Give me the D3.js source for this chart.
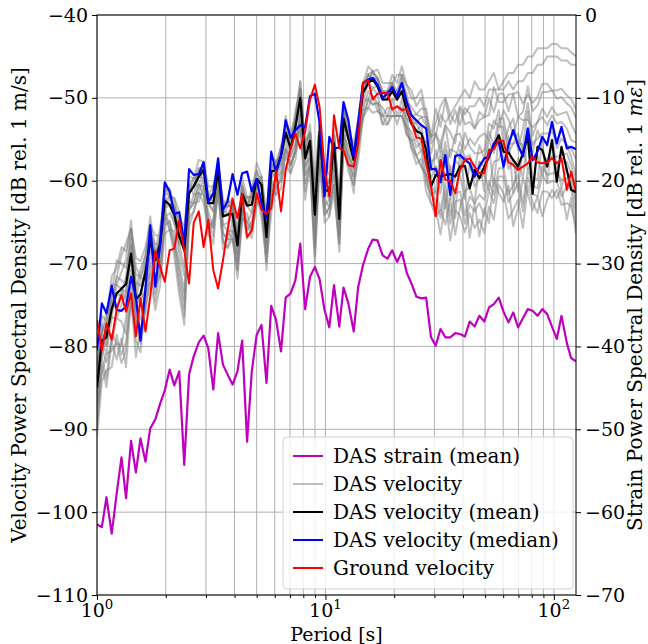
<!DOCTYPE html>
<html>
<head>
<meta charset="utf-8">
<script src="https://cdn.jsdelivr.net/npm/d3@7"></script>
<style>
  html, body { margin: 0; padding: 0; background: #fff; }
  svg { display: block; font-family: "DejaVu Serif", serif; }
</style>
</head>
<body>
<svg id="chart" width="648" height="644"></svg>
<script>
// Sample periods [s], log-uniformly spaced (ratio 1.05)
const periods = [1.00,1.05,1.10,1.16,1.22,1.28,1.34,1.41,1.48,1.55,
  1.63,1.71,1.80,1.89,1.98,2.08,2.18,2.29,2.41,2.53,
  2.65,2.79,2.93,3.07,3.23,3.39,3.56,3.73,3.92,4.12,
  4.32,4.54,4.76,5.00,5.25,5.52,5.79,6.08,6.39,6.70,
  7.04,7.39,7.76,8.15,8.56,8.99,9.43,9.91,10.4,10.9,
  11.5,12.0,12.6,13.3,13.9,14.6,15.4,16.1,16.9,17.8,
  18.7,19.6,20.6,21.6,22.7,23.8,25.0,26.3,27.6,29.0,
  30.4,31.9,33.5,35.2,37.0,38.8,40.8,42.8,45.0,47.2,
  49.6,52.0,54.6,57.4,60.2,63.3,66.4,69.7,73.2,76.9,
  80.7,84.8,89.0,93.5,98.1,103,108,114,119,125];

// DAS strain PSD, mean over channels [dB rel. 1 mε]
const strainMean = [-61.5,-61.8,-58.2,-62.6,-57.7,-53.4,-58.3,-51.4,-55.2,-51.1,
  -53.9,-49.9,-48.8,-46.9,-45.3,-42.8,-44.7,-43.0,-54.3,-43.4,
  -41.2,-39.5,-38.7,-40.2,-45.2,-38.4,-42.2,-43.4,-44.6,-43.0,
  -39.3,-51.5,-43.0,-38.6,-37.4,-44.4,-35.1,-36.8,-40.6,-34.1,
  -33.6,-32.0,-27.6,-35.5,-31.6,-30.4,-31.9,-35.6,-37.7,-32.6,
  -37.6,-32.9,-34.8,-38.2,-32.9,-30.2,-28.2,-27.1,-27.2,-29.0,
  -29.4,-28.4,-29.8,-28.6,-31.1,-32.4,-34.0,-34.2,-34.1,-38.9,
  -39.9,-37.9,-38.9,-38.9,-38.4,-38.5,-38.8,-37.0,-37.6,-36.3,
  -37.0,-35.3,-34.9,-34.1,-35.8,-37.1,-35.9,-37.7,-36.6,-35.5,
  -35.7,-36.3,-35.5,-36.1,-37.6,-39.1,-36.3,-39.6,-41.4,-41.8];

// DAS velocity PSD, mean over channels [dB rel. 1 m/s]
const velocityMean = [-85.0,-79.3,-78.9,-75.5,-73.6,-73.0,-72.5,-68.8,-74.3,-73.7,
  -71.0,-67.3,-69.6,-67.6,-62.4,-62.9,-64.1,-66.7,-68.4,-61.5,
  -60.7,-59.5,-58.7,-62.7,-62.7,-58.7,-64.3,-64.1,-64.0,-67.8,
  -61.6,-63.0,-62.9,-59.8,-60.5,-66.8,-58.9,-58.7,-57.0,-54.2,
  -56.1,-53.5,-50.0,-57.3,-55.2,-64.1,-54.1,-61.1,-61.3,-55.5,
  -64.6,-52.5,-54.9,-57.5,-53.7,-49.4,-48.2,-47.8,-48.6,-50.2,
  -50.2,-49.2,-50.2,-49.2,-51.5,-53.1,-54.0,-54.3,-56.3,-60.7,
  -59.3,-59.5,-59.3,-59.2,-59.5,-58.3,-58.2,-60.9,-58.7,-59.7,
  -58.3,-57.1,-55.7,-54.5,-56.5,-56.6,-57.5,-58.3,-56.7,-54.6,
  -61.6,-55.9,-56.3,-58.3,-55.1,-60.1,-55.9,-58.7,-61.1,-61.4];

// DAS velocity PSD, median over channels [dB rel. 1 m/s]
const velocityMedian = [-80.5,-74.8,-76.0,-72.7,-75.6,-75.7,-75.2,-71.6,-74.0,-79.3,
  -73.0,-65.4,-72.8,-67.8,-60.2,-61.3,-64.0,-63.8,-67.5,-58.6,
  -59.3,-59.2,-57.8,-62.6,-61.5,-57.3,-63.5,-62.5,-59.2,-61.7,
  -59.1,-58.9,-61.3,-59.8,-62.7,-64.5,-56.5,-59.0,-57.0,-52.7,
  -54.8,-53.9,-53.3,-53.6,-49.8,-49.5,-53.0,-61.9,-54.7,-56.1,
  -56.0,-50.5,-52.7,-57.1,-53.1,-48.2,-47.8,-47.6,-48.4,-50.0,
  -49.5,-48.7,-49.8,-48.2,-50.5,-52.1,-52.7,-53.3,-53.7,-58.6,
  -58.6,-60.2,-56.9,-61.7,-57.0,-56.9,-57.5,-57.9,-59.5,-58.3,
  -57.3,-57.1,-55.5,-55.3,-58.3,-55.7,-53.9,-55.7,-57.1,-53.7,
  -57.5,-56.5,-54.7,-55.7,-52.9,-55.5,-53.5,-56.1,-55.9,-56.2];

// Ground (seismometer) velocity PSD [dB rel. 1 m/s]
const groundVelocity = [-76.8,-80.5,-77.2,-79.2,-75.5,-73.8,-75.8,-73.6,-78.8,-74.2,
  -78.2,-74.0,-68.5,-70.4,-72.2,-68.4,-68.2,-64.8,-68.4,-72.4,
  -65.1,-63.7,-68.0,-64.7,-70.8,-73.0,-69.6,-66.0,-62.2,-64.5,
  -61.6,-66.8,-66.0,-61.5,-63.5,-64.0,-63.3,-58.8,-63.7,-58.7,
  -56.1,-54.3,-56.1,-54.1,-50.2,-48.4,-51.1,-58.7,-61.9,-52.1,
  -56.1,-56.3,-58.1,-58.3,-55.5,-48.2,-47.9,-50.2,-49.5,-49.4,
  -49.4,-51.4,-51.0,-51.5,-51.3,-52.9,-54.8,-54.9,-57.9,-60.7,
  -64.3,-57.5,-59.9,-60.0,-61.5,-58.7,-57.5,-57.3,-58.3,-59.1,
  -59.1,-56.3,-56.2,-55.1,-55.2,-57.8,-58.1,-58.7,-58.3,-57.9,
  -57.1,-57.8,-57.9,-57.8,-57.3,-57.9,-57.3,-61.1,-58.9,-61.3];

// Individual DAS channels: deviation [dB] of each channel from the channel mean
const channelDeviation = [
  [2,1,3,2,4,3,2,1,3,2, 1,2,0,1,1,2,1,2,3,1, 1,0,1,2,2,0,2,1,1,2, 0,1,1,0,1,3,-1,0,1,1,
   2,1,2,1,2,4,1,3,2,1, 3,0,1,2,1,0,1,1,1,1, 1,2,2,3,3,3,4,5.3,4.3,5.7,
   6.3,8.5,9.3,7.2,8.5,8.3,9.2,10.9,10.7,10.7, 9.3,9.1,8.7,5.5,8.5,9.6,10.5,12.3,10.7,9.6,
   16.6,11.9,12.3,14.3,11.6,16.6,11.9,14.7,16.6,16.4],
  [-1,2,0,3,1,2,3,4,1,3, 2,1,2,0,1,1,2,3,2,0, 0,1,0,1,1,1,1,2,0,1, 1,0,2,1,0,2,0,1,0,2,
   1,2,1,2,1,3,1,2,3,1, 2,1,2,1,0,1,2,1,2,2, 2,1,3,2,3,4,3,4.3,3.3,5.2,
   4.8,7.5,6.3,7.2,6.5,7.3,6.2,9.9,7.7,9.7, 7.3,8.1,6.7,5.5,7.5,8.6,8.5,10.3,8.7,7.6,
   14.6,9.9,10.3,13.3,10.1,15.1,10.4,13.2,15.1,15.4],
  [1,-2,1,0,2,1,0,3,2,1, 0,1,1,-1,0,0,1,1,0,1, -1,0,1,0,-1,1,0,0,1,0, 1,0,-1,1,0,2,1,0,1,0,
   0,1,2,0,1,2,0,2,1,0, 2,1,0,1,1,1,0,1,0,1, 0,1,1,2,1,2,2,3,5,6,
   8,6,9,6,8,5,7,9,5,8, 6,7,4,5,7,5,8,9,6,5, 11,6,8,10,6,11,7,9,11,10],
  [0,1,-1,2,0,-1,1,2,0,2, -1,0,1,0,-1,1,0,-1,1,0, 0,-1,0,1,0,-1,1,0,-1,0, 0,1,0,-1,1,1,0,-1,0,1,
   1,0,1,-1,0,2,0,1,0,-1, 1,-1,0,0,-1,1,0,0,1,0, 0,1,0,1,2,1,1,2,3,4,
   5,3,6,2,5,4,2,6,3,5, 4,2,3,1,5,4,3,6,4,2, 8,3,5,6,4,8,4,7,8,7],
  [-3,-4,-2,-5,-6,-7,-4,-3,-2,-5, -3,-2,-4,-2,-1,-3,-2,-4,-6,-2, -1,-2,-1,-3,-2,-1,-2,-3,-1,-2,
   -2,-1,-3,-2,-1,-2,-3,-1,-2,-1, -2,-3,-1,-2,-1,-3,-2,-1,-2,-2, -1,-2,-1,-2,-1,-2,-1,-2,-2,-1,
   -2,-1,-2,-1,-2,-1,-2,-1,-3,0, -2,3,-4,1,-5,2,-3,0,-4,2, -3,1,-5,0,-2,2,-4,1,-3,0,
   2,-4,1,-2,0,2,-5,1,2,-1],
  [-1,0,-2,-1,-3,-2,-1,0,-3,-1, -2,0,-1,0,-2,-1,-1,-2,-3,-1, -2,-1,-2,-1,-3,-1,-1,-2,-2,-1,
   -1,-2,-1,-1,-2,-1,-2,-1,-1,-2, -1,-2,-2,-1,-2,-1,-1,-2,-1,-3, -2,-1,-2,-1,-2,-1,-2,-1,-1,-2,
   -1,-2,-1,-2,-1,-2,-1,-2,-1,1, 1,-2,2,-3,0,-1,-4,3,-2,0, -1,-4,-2,-3,1,-2,0,-3,1,-4,
   4,-1,-3,1,-2,3,-1,2,3,1],
  [-4,-2,-5,-3,-6,-9,-8,-4,-3,-6, -4,-3,-5,-3,-3,-2,-4,-6,-8,-3, -3,-2,-3,-4,-2,-3,-3,-4,-2,-3,
   -3,-2,-4,-3,-2,-3,-2,-3,-4,-2, -3,-2,-3,-4,-2,-4,-3,-2,-3,-4, -2,-3,-2,-3,-2,-3,-2,-3,-2,-3,
   -3,-2,-3,-2,-3,-2,-3,-2,-4,-1, -3,-5,-2,-6,-3,-4,-7,-2,-5,-3, -6,-4,-7,-5,-3,-6,-4,-2,-7,-5,
   0,-6,-3,-2,-5,0,-6,-2,0,-3],
  [-2,-1,-3,-4,-3,-4,-6,-2,-1,-3, -2,-1,-2,-4,-2,-2,-3,-5,-7,-2, -2,-1,-3,-2,-4,-2,-2,-3,-3,-2,
   -2,-3,-2,-2,-3,-2,-1,-3,-2,-3, -2,-3,-2,-3,-3,-4,-2,-3,-2,-5, -3,-2,-3,-2,-3,-2,-3,-2,-3,-2,
   -2,-3,-2,-3,-2,-3,-4,-3,-5,-2, -4,-7,-3,-8,-4,-6,-8,-3,-7,-5, -8,-6,-9,-6,-5,-8,-6,-4,-9,-6,
   -1,-8,-5,-3,-7,-1,-7,-4,-2,-4],
  [1,3,2,4,3,5,4,3,5,4, 3,2,3,1,2,1,2,1,1,2, 1,2,1,1,2,1,1,1,2,1, 2,1,1,2,1,1,2,1,1,0,
   1,1,0,2,1,2,1,1,1,2, 1,1,1,0,1,1,1,0,1,1, 1,0,1,1,0,1,0,1,-1,2,
   1,0,3,-1,2,0,1,4,-1,2, 0,2,-1,1,3,0,2,4,0,1, 6,1,2,4,1,5,2,3,5,4],
  [-5,-3,-6,-4,-8,-6,-10,-5,-7,-4, -5,-4,-6,-5,-4,-3,-5,-7,-9,-4, -3,-2,-4,-3,-5,-2,-3,-4,-3,-3,
   -2,-4,-3,-2,-4,-3,-5,-2,-3,-4, -3,-4,-3,-5,-3,-6,-4,-3,-2,-5, -4,-3,-4,-3,-4,-3,-3,-4,-3,-2,
   -3,-3,-2,-3,-2,-3,-3,-4,-3,-2, -5,-4,-6,-3,-7,-5,-3,-6,-4,-7, -5,-8,-4,-7,-6,-4,-8,-5,-3,-7,
   -2,-6,-8,-4,-6,-2,-5,-6,-1,-5],
  [3,1,2,1,2,4,5,3,4,2, 2,3,1,2,0,1,1,0,1,1, 0,1,0,0,1,0,0,1,1,0, 1,0,1,0,0,0,1,0,1,1,
   0,1,1,1,0,1,0,1,1,0, 0,0,1,1,0,0,1,0,0,0, 1,0,0,1,1,0,1,0,1,3,
   2,4,1,3,3,1,4,5,2,3, 2,4,2,3,1,3,5,2,3,4, 7,3,4,5,3,7,3,5,6,6],
  [-2,0,-1,1,-2,0,-1,1,-1,0, 0,-1,0,1,0,0,-1,0,0,0, 1,0,1,0,0,1,0,0,1,1, 0,0,1,0,0,1,0,1,0,0,
   0,0,1,1,1,0,1,1,0,1, 0,1,0,1,0,1,0,1,1,0, 1,1,0,2,1,1,2,2,4,6,
   5,4,6,5,4,7,5,8,5,7, 6,5,7,4,6,7,8,6,5,6, 10,5,7,9,6,10,6,8,10,9],
  [-6,-5,-4,-7,-5,-8,-7,-6,-5,-7, -4,-5,-3,-4,-2,-3,-4,-3,-5,-2, -2,-3,-2,-2,-3,-2,-4,-2,-3,-4,
   -3,-2,-3,-3,-2,-4,-3,-2,-3,-2, -2,-3,-4,-2,-3,-5,-2,-4,-3,-6, -3,-2,-3,-4,-2,-3,-2,-3,-2,-3,
   -2,-3,-2,-3,-3,-2,-3,-4,-3,-1, -2,-4,-1,-5,-2,-3,-6,-1,-4,-2, -4,-3,-6,-4,-2,-5,-3,-1,-6,-4,
   1,-5,-2,-1,-4,1,-4,-1,1,-2],
  [2,0,1,-1,1,0,-2,0,1,-1, 1,0,-1,0,-1,0,0,-1,-2,0, 0,0,-1,0,-1,0,-1,-1,0,-1, -1,0,0,-1,0,-1,0,0,-1,0,
   -1,0,-1,0,-1,-2,-1,0,-1,-2, -1,0,0,-1,0,-1,0,-1,0,0, 0,-1,0,0,-1,0,0,-1,1,2,
   3,1,4,0,2,3,1,3,0,4, 1,3,0,2,4,1,2,3,1,3, 5,2,1,3,2,4,1,3,4,2]
];

// Axis ticks
const leftTicks = [-110, -100, -90, -80, -70, -60, -50, -40];
const rightTicks = [-70, -60, -50, -40, -30, -20, -10, 0];
const decadeTicks = [1, 10, 100];
const decadeExponents = ["0", "1", "2"];

const legendLabels = ["DAS strain (mean)", "DAS velocity", "DAS velocity (mean)",
  "DAS velocity (median)", "Ground velocity"];

// ---- drawing ----
const svg = d3.select("#chart");
const plot = { left: 97, right: 576, top: 15, bottom: 595 };
const fontSize = 19;
const legendFont = 20;

const x = d3.scaleLog().domain([1, d3.max(periods)]).range([plot.left, plot.right]);
const yL = d3.scaleLinear().domain([-110, -40]).range([plot.bottom, plot.top]);
const yR = d3.scaleLinear().domain([-70, 0]).range([plot.bottom, plot.top]);

svg.append("defs").append("clipPath").attr("id", "plotClip")
  .append("rect").attr("x", plot.left).attr("y", plot.top)
  .attr("width", plot.right - plot.left).attr("height", plot.bottom - plot.top);

// minor ticks: 2..9 in each decade inside the domain
const minorTicks = [];
[1, 10, 100].forEach(d => { for (let m = 2; m <= 9; m++) { const v = d * m; if (v < x.domain()[1]) minorTicks.push(v); } });

// grid
const grid = svg.append("g").attr("stroke", "#b0b0b0").attr("stroke-width", 1);
grid.selectAll("line.gx").data(decadeTicks.concat(minorTicks)).join("line")
  .attr("x1", d => x(d)).attr("x2", d => x(d)).attr("y1", plot.top).attr("y2", plot.bottom);
grid.selectAll("line.gy").data(leftTicks).join("line")
  .attr("x1", plot.left).attr("x2", plot.right).attr("y1", d => yL(d)).attr("y2", d => yL(d));

const lines = svg.append("g").attr("clip-path", "url(#plotClip)").attr("fill", "none")
  .attr("stroke-linejoin", "round");

const lineL = d3.line().x((d, i) => x(periods[i])).y(d => yL(d));
const lineR = d3.line().x((d, i) => x(periods[i])).y(d => yR(d));

channelDeviation.forEach(dev => {
  const ch = velocityMean.map((m, i) => m + dev[i]);
  lines.append("path").datum(ch).attr("d", lineL)
    .attr("stroke", "#808080").attr("stroke-opacity", 0.5).attr("stroke-width", 2);
});
lines.append("path").datum(velocityMean).attr("d", lineL).attr("stroke", "#000").attr("stroke-width", 2.2);
lines.append("path").datum(velocityMedian).attr("d", lineL).attr("stroke", "#0000ff").attr("stroke-width", 2.2);
lines.append("path").datum(groundVelocity).attr("d", lineL).attr("stroke", "#ff0000").attr("stroke-width", 2);
lines.append("path").datum(strainMean).attr("d", lineR).attr("stroke", "#bf00bf").attr("stroke-width", 2.2);

// axes
const leftAxis = d3.axisLeft(yL).tickValues(leftTicks).tickSize(5).tickPadding(4);
const rightAxis = d3.axisRight(yR).tickValues(rightTicks).tickSize(5).tickPadding(4);
const gl = svg.append("g").attr("transform", `translate(${plot.left},0)`).call(leftAxis);
const gr = svg.append("g").attr("transform", `translate(${plot.right},0)`).call(rightAxis);
[gl, gr].forEach(g => {
  g.select(".domain").remove();
  g.selectAll("text").attr("font-family", "DejaVu Serif").attr("font-size", fontSize);
  g.selectAll("line").attr("stroke-width", 1);
});

const bottomAxis = d3.axisBottom(x).tickValues(decadeTicks).tickSize(5).tickFormat("");
const gb = svg.append("g").attr("transform", `translate(0,${plot.bottom})`).call(bottomAxis);
gb.select(".domain").remove();
gb.selectAll(".tick text").remove();
const minorAxis = d3.axisBottom(x).tickValues(minorTicks).tickSize(3).tickFormat("");
const gm = svg.append("g").attr("transform", `translate(0,${plot.bottom})`).call(minorAxis);
gm.select(".domain").remove();

// decade labels 10^n
const decLabels = svg.append("g").attr("font-size", fontSize).attr("text-anchor", "middle");
decadeTicks.forEach((d, i) => {
  const t = decLabels.append("text").attr("x", x(d)).attr("y", plot.bottom + 22);
  t.append("tspan").text("10");
  t.append("tspan").attr("dy", -8).attr("font-size", fontSize * 0.7).text(decadeExponents[i]);
});

// frame
svg.append("rect").attr("x", plot.left).attr("y", plot.top)
  .attr("width", plot.right - plot.left).attr("height", plot.bottom - plot.top)
  .attr("fill", "none").attr("stroke", "#000").attr("stroke-width", 1);

// axis titles
svg.append("text").attr("x", (plot.left + plot.right) / 2).attr("y", 641)
  .attr("text-anchor", "middle").attr("font-size", fontSize).text("Period [s]");
svg.append("text").attr("transform", `translate(26,${(plot.top + plot.bottom) / 2}) rotate(-90)`)
  .attr("text-anchor", "middle").attr("font-size", legendFont)
  .text("Velocity Power Spectral Density [dB rel. 1 m/s]");
const rt = svg.append("text").attr("transform", `translate(642,${(plot.top + plot.bottom) / 2}) rotate(-90)`)
  .attr("text-anchor", "middle").attr("font-size", legendFont);
rt.append("tspan").text("Strain Power Spectral Density [dB rel. 1 ");
rt.append("tspan").attr("font-style", "italic").text("mε");
rt.append("tspan").text("]");

// legend
const leg = { x: 283, y: 437, w: 290, h: 152, row: 28 };
const lg = svg.append("g");
lg.append("rect").attr("x", leg.x).attr("y", leg.y).attr("width", leg.w).attr("height", leg.h)
  .attr("rx", 4).attr("fill", "#fff").attr("fill-opacity", 0.8)
  .attr("stroke", "#d0d0d0").attr("stroke-width", 1);
const legStyles = [
  { c: "#bf00bf", o: 1 }, { c: "#808080", o: 0.5 }, { c: "#000", o: 1 },
  { c: "#0000ff", o: 1 }, { c: "#ff0000", o: 1 }];
legendLabels.forEach((lab, i) => {
  const cy = leg.y + 19 + i * leg.row;
  lg.append("line").attr("x1", leg.x + 10).attr("x2", leg.x + 40).attr("y1", cy).attr("y2", cy)
    .attr("stroke", legStyles[i].c).attr("stroke-opacity", legStyles[i].o).attr("stroke-width", 2);
  lg.append("text").attr("x", leg.x + 50).attr("y", cy + 7).attr("font-size", legendFont).text(lab);
});
</script>
</body>
</html>
